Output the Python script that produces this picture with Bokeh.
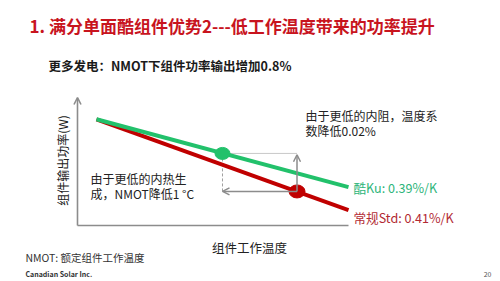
import math
from bokeh.plotting import figure
from bokeh.models import Range1d, Label, Arrow, OpenHead
from bokeh.embed import file_html
from bokeh.resources import INLINE

# ---------------- data (schematic) ----------------
title_text = "1. 满分单面酷组件优势2---低工作温度带来的功率提升"
subtitle_text = "更多发电：NMOT下组件功率输出增加0.8%"
x_label = "组件工作温度"
y_label = "组件输出功率(W)"
note_left = ["由于更低的内热生", "成，NMOT降低1 °C"]
note_right = ["由于更低的内阻，温度系", "数降低0.02%"]
series_names = ["酷Ku: 0.39%/K", "常规Std: 0.41%/K"]
footnote = "NMOT: 额定组件工作温度"
company = "Canadian Solar Inc."
page_no = "20"

temp = [7, 100]            # working temperature (arbitrary units)
power_ku = [83, 30]        # output power, Ku module
power_std = [83, 12]       # output power, standard module
nmot = [53.5, 81]          # NMOT of Ku / Std
power_at_nmot = [56.3, 26.6]
axis_max = [100, 100]      # x / y axis extents

# ---------------- layout helpers ----------------
W, H = 500, 281
X0, KX = 77, 2.71          # pixel of T=0, px per unit
Y0, KY = 225, 1.28         # pixel of P=0, px per unit

def dx(px):
    return (px - X0) / KX

def dy(py):
    return (Y0 - py) / KY

p = figure(width=W, height=H, output_backend="svg", toolbar_location=None,
           x_range=Range1d(dx(0), dx(W)), y_range=Range1d(dy(H), dy(0)),
           min_border=0, background_fill_color="white", border_fill_color="white")
p.axis.visible = False
p.grid.visible = False
p.outline_line_color = None

FONT = "Noto Sans CJK SC"
GRAY = "#8c8c8c"
GREEN = "#22c16b"
RED = "#c00000"

# axes
p.line([0, axis_max[0]], [0, 0], line_color=GRAY, line_width=1.6)
p.add_layout(Arrow(end=OpenHead(size=7, line_color=GRAY, line_width=1.6),
                   x_start=0, y_start=0, x_end=0, y_end=axis_max[1],
                   line_color=GRAY, line_width=1.6))

# helper lines
p.line([nmot[0], nmot[1]], [power_at_nmot[0], power_at_nmot[0]],
       line_color="#c8c8c8", line_width=1)
p.line([nmot[0], nmot[0]], [power_at_nmot[0], power_at_nmot[1]],
       line_color="#a0a0a0", line_width=1, line_dash="3 2")
p.add_layout(Arrow(end=OpenHead(size=7, line_color=GRAY, line_width=1.5),
                   x_start=nmot[1], y_start=power_at_nmot[1],
                   x_end=nmot[0], y_end=power_at_nmot[1],
                   line_color=GRAY, line_width=1.5))
p.add_layout(Arrow(end=OpenHead(size=7, line_color=GRAY, line_width=1.5),
                   x_start=nmot[1], y_start=power_at_nmot[1],
                   x_end=nmot[1], y_end=power_at_nmot[0] - 1,
                   line_color=GRAY, line_width=1.5))

# series lines
p.line(temp, power_std, line_color=RED, line_width=4)
p.line(temp, power_ku, line_color=GREEN, line_width=4)

# NMOT dots
p.ellipse(x=[nmot[0]], y=[power_at_nmot[0]], width=15, height=12,
          width_units="screen", height_units="screen",
          fill_color=GREEN, line_color=GREEN)
p.ellipse(x=[nmot[1]], y=[power_at_nmot[1]], width=16, height=13,
          width_units="screen", height_units="screen",
          fill_color=RED, line_color=RED)

def lab(text, px, py, size, color="#222222", bold=False, align="left", angle=0.0):
    p.add_layout(Label(x=dx(px), y=dy(py), text=text, text_font=FONT,
                       text_font_size=f"{size}px", text_color=color,
                       text_font_style="bold" if bold else "normal",
                       text_align=align, text_baseline="middle", angle=angle))

lab(title_text, 29, 25, 17, color="#c8141e", bold=True)
lab(subtitle_text, 48, 65, 12.5, color="#1a1a1a", bold=True)
lab(y_label, 62, 160, 12, angle=math.pi / 2, align="center")
lab(x_label, 249, 247, 12.5, align="center")
lab(note_left[0], 90, 178, 12)
lab(note_left[1], 90, 193, 12)
lab(note_right[0], 305, 115, 12)
lab(note_right[1], 305, 130, 12)
lab(series_names[0], 353, 187, 12.6, color="#2eb57a")
lab(series_names[1], 353, 217, 12.6, color="#b22a33")
lab(footnote, 25, 257, 10.5, color="#333333")
lab(company, 25, 273, 7, color="#333333", bold=True)
lab(page_no, 491, 273, 7, color="#555555", align="right")

open("out.html", "w").write(file_html(p, INLINE))
